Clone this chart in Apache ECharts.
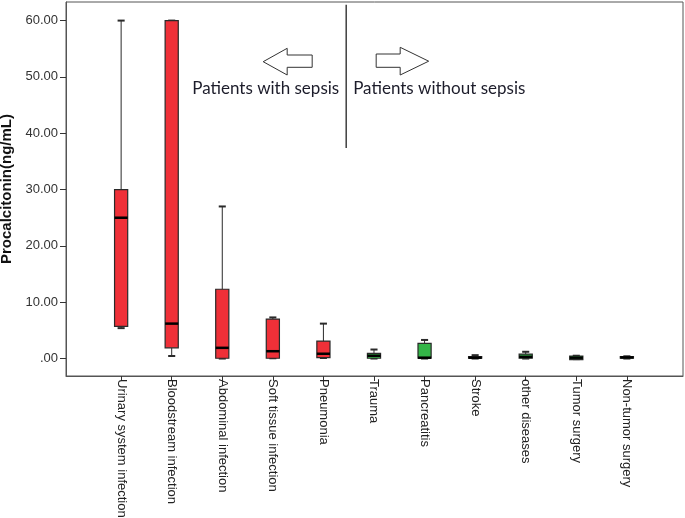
<!DOCTYPE html>
<html><head><meta charset="utf-8">
<script src="https://cdn.jsdelivr.net/npm/echarts@6/dist/echarts.min.js"></script>
<style>html,body{margin:0;padding:0;background:#fff}#c{width:685px;height:518px}</style>
</head><body><div id="c"></div>
<script>
const categories = ['Urinary system infection','Bloodstream infection','Abdominal infection','Soft tissue infection','Pneumonia','Trauma','Pancreatitis','Stroke','other diseases','Tumor surgery','Non-tumor surgery'];
const lowWhisker  = [5.4, 0.45, 0.0, 0.05, 0.1, 0.0, 0.0, 0.0, 0.0, -0.1, 0.0];
const q1          = [5.7, 1.9, 0.05, 0.05, 0.15, 0.05, 0.05, 0.05, 0.05, -0.2, 0.05];
const median      = [25.0, 6.2, 1.9, 1.3, 0.85, 0.5, 0.15, 0.15, 0.3, 0.15, 0.2];
const q3          = [30.0, 60.0, 12.3, 7.0, 3.1, 0.9, 2.7, 0.35, 0.8, 0.45, 0.35];
const highWhisker = [60.0, 60.0, 27.0, 7.3, 6.2, 1.6, 3.3, 0.6, 1.2, 0.5, 0.4];
const withSepsis  = [1, 1, 1, 1, 1, 0, 0, 0, 0, 0, 0];
const yTicks = [0, 10, 20, 30, 40, 50, 60];
const xTicks = categories.map((c, i) => i);

const RED = '#ef3038', GREEN = '#34b548', EDGE = '#2a2a2a';
const data = categories.map((c, i) => [i, lowWhisker[i], q1[i], median[i], q3[i], highWhisker[i], withSepsis[i]]);

const chart = echarts.init(document.getElementById('c'), null, {renderer: 'canvas'});
chart.setOption({
  animation: false,
  backgroundColor: '#fff',
  grid: {left: 66, right: 2, top: 2, bottom: 142, containLabel: false, outerBoundsMode: 'none',
         show: true, borderColor: '#555', borderWidth: 1, backgroundColor: '#fff'},
  xAxis: {
    type: 'value', min: -1.09, max: 11.11,
    axisLine: {show: true, onZero: false, lineStyle: {color: '#555'}},
    splitLine: {show: false},
    axisTick: {show: true, customValues: xTicks, length: 5, lineStyle: {color: '#333'}},
    axisLabel: {customValues: xTicks, rotate: -90, margin: 3, fontFamily: 'Liberation Sans, Arial', fontSize: 13, color: '#222',
      formatter: v => categories[Math.round(v)] || ''}
  },
  yAxis: {
    type: 'value', min: -3.1, max: 63.3,
    name: 'Procalcitonin(ng/mL)', nameLocation: 'middle', nameGap: 44,
    nameTextStyle: {fontFamily: 'Liberation Sans, Arial', fontWeight: 'bold', fontSize: 15, color: '#111'},
    axisLine: {show: true, onZero: false, lineStyle: {color: '#555'}},
    splitLine: {show: false},
    axisTick: {show: true, customValues: yTicks, length: 6, lineStyle: {color: '#333'}},
    axisLabel: {customValues: yTicks, margin: 8, fontFamily: 'Liberation Sans, Arial', fontSize: 13, color: '#333',
      formatter: v => v === 0 ? '.00' : v.toFixed(2)}
  },
  series: [{
    type: 'custom',
    data: data,
    encode: {x: 0, y: [1, 2, 3, 4, 5]},
    renderItem: function (params, api) {
      const i = api.value(0);
      const band = api.size([1, 0])[0];
      const hb = band * 0.13, hc = band * 0.07;
      const pLo = api.coord([i, api.value(1)]);
      const pQ1 = api.coord([i, api.value(2)]);
      const pMd = api.coord([i, api.value(3)]);
      const pQ3 = api.coord([i, api.value(4)]);
      const pHi = api.coord([i, api.value(5)]);
      const x = pMd[0];
      const fill = api.value(6) ? RED : GREEN;
      const ln = {stroke: EDGE, lineWidth: 1};
      return {
        type: 'group',
        children: [
          {type: 'line', shape: {x1: x, y1: pHi[1], x2: x, y2: pQ3[1]}, style: ln},
          {type: 'line', shape: {x1: x, y1: pLo[1], x2: x, y2: pQ1[1]}, style: ln},
          {type: 'line', shape: {x1: x - hc, y1: pHi[1], x2: x + hc, y2: pHi[1]}, style: {stroke: EDGE, lineWidth: 2}},
          {type: 'line', shape: {x1: x - hc, y1: pLo[1], x2: x + hc, y2: pLo[1]}, style: {stroke: EDGE, lineWidth: 2}},
          {type: 'rect', shape: {x: x - hb, y: pQ3[1], width: 2 * hb, height: Math.max(pQ1[1] - pQ3[1], 1)}, style: {fill: fill, stroke: EDGE, lineWidth: 1.2}},
          {type: 'line', shape: {x1: x - hb, y1: pMd[1], x2: x + hb, y2: pMd[1]}, style: {stroke: '#000', lineWidth: 2.5}}
        ]
      };
    }
  }]
});

// annotations anchored to data coordinates of the divider between the two groups
const divTop = chart.convertToPixel({gridIndex: 0}, [4.45, 62.8]);
const divBot = chart.convertToPixel({gridIndex: 0}, [4.45, 37.4]);
const dx = divTop[0];
const annFont = '17px Lato, "Noto Sans", sans-serif';
chart.setOption({
  graphic: [
    {type: 'line', shape: {x1: dx, y1: divTop[1], x2: dx, y2: divBot[1]}, style: {stroke: '#222', lineWidth: 1.3}},
    {type: 'polygon', shape: {points: [[dx-83,61.7],[dx-59,48.3],[dx-59,55],[dx-34,55],[dx-34,67.3],[dx-59,67.3],[dx-59,75]]}, style: {fill: '#fff', stroke: '#333', lineWidth: 1}},
    {type: 'polygon', shape: {points: [[dx+30,54],[dx+54,54],[dx+54,47.3],[dx+82.5,61.2],[dx+54,75],[dx+54,67.3],[dx+30,67.3]]}, style: {fill: '#fff', stroke: '#333', lineWidth: 1}},
    {type: 'text', x: dx - 7, y: 89, style: {text: 'Patients with sepsis', font: annFont, fill: '#1c1c2a', align: 'right', verticalAlign: 'middle'}},
    {type: 'text', x: dx + 7, y: 89, style: {text: 'Patients without sepsis', font: annFont, fill: '#1c1c2a', align: 'left', verticalAlign: 'middle'}}
  ]
});
</script></body></html>
